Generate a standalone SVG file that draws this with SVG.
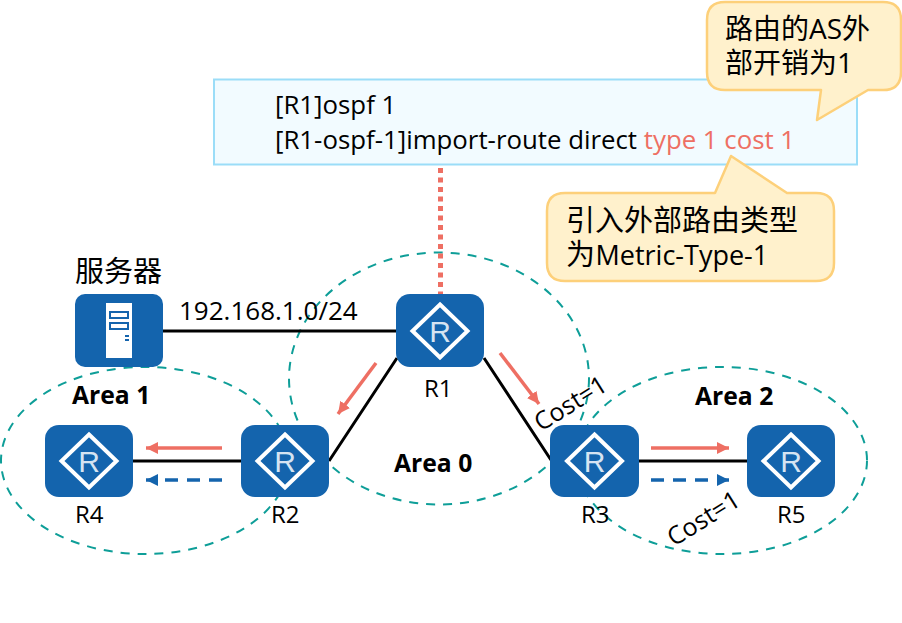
<svg xmlns="http://www.w3.org/2000/svg" width="902" height="623" viewBox="0 0 902 623">
<style>
text{font-family:"Open Sans","Noto Sans CJK SC","Noto Sans",sans-serif;fill:#000}
.cjk{font-family:"Noto Sans CJK SC","Noto Sans",sans-serif}
.t{font-size:24px}
.c{font-size:25px}
.code{font-size:25.800px}
.b{font-size:24.700px;font-weight:700}
.area{fill:none;stroke:#0e9e98;stroke-width:2;stroke-dasharray:9 8}
.box{fill:#1464ad}
.d{fill:none;stroke:#fff;stroke-width:4}
.r{fill:#d6e4f2;font-size:30px;font-family:"Liberation Sans",sans-serif;text-anchor:middle}
.link{stroke:#000;stroke-width:3;fill:none}
.red{stroke:#ee6f63;stroke-width:3.500;fill:none;marker-end:url(#ar)}
.blue{stroke:#1464ad;stroke-width:3.500;fill:none;stroke-dasharray:13 9;marker-end:url(#ab)}
.call{fill:#fff1cc;stroke:#fdd07a;stroke-width:2.500;stroke-linejoin:round}
</style>
<defs>
<marker id="ar" markerUnits="userSpaceOnUse" markerWidth="13" markerHeight="13" refX="12" refY="6" orient="auto"><path d="M0 0L12 6L0 12Z" fill="#ee6f63"/></marker>
<marker id="ab" markerUnits="userSpaceOnUse" markerWidth="13" markerHeight="13" refX="12" refY="6" orient="auto"><path d="M0 0L12 6L0 12Z" fill="#1464ad"/></marker>
</defs>
<rect width="902" height="623" fill="#fff"/>
<g id="areas">
<ellipse class="area" cx="439" cy="378.500" rx="150" ry="126"/>
<ellipse class="area" cx="145" cy="460.500" rx="144" ry="93.500"/>
<ellipse class="area" cx="722" cy="460.500" rx="145" ry="93.500"/>
</g>
<g id="connectors">
<path class="link" d="M163 331H396M397 358L329 461M484 358L551 460M133 461H241M639 461H747"/>
<path d="M440.500 168V294" stroke="#ee6f63" stroke-width="5" stroke-dasharray="5 4.500" fill="none"/>
<path class="red" d="M376 363L338 414"/>
<path class="red" d="M500 353L539 404"/>
<path class="red" d="M222 448H146"/>
<path class="red" d="M651 448H729"/>
<path class="blue" d="M222 480H146"/>
<path class="blue" d="M651 480H729"/>
</g>
<g id="server">
<rect class="box" x="75" y="294" width="88" height="73" rx="10"/>
<rect x="106" y="303" width="26" height="55" fill="#fff"/>
<path d="M110 312H128V318H110ZM110 323H128V329H110Z" fill="none" stroke="#1464ad" stroke-width="2"/>
<path d="M125 335H129V337H125ZM125 339H129V341H125Z" fill="#1464ad"/>
<text class="cjk" x="75" y="282" font-size="29">服务器</text>
</g>
<g id="R1">
<rect class="box" x="396" y="294" width="88" height="73" rx="14"/>
<path class="d" d="M440 304.500L467.500 331L440 357.500L412.500 331Z"/>
<text class="r" x="440" y="341.500">R</text>
<text class="t" x="424" y="397">R1</text>
</g>
<g id="R2">
<rect class="box" x="241" y="425" width="88" height="72" rx="14"/>
<path class="d" d="M285 434.500L312.500 461L285 487.500L257.500 461Z"/>
<text class="r" x="285" y="471.500">R</text>
<text class="t" x="271" y="523">R2</text>
</g>
<g id="R3">
<rect class="box" x="550" y="425" width="89" height="72" rx="14"/>
<path class="d" d="M594.500 434.500L622 461L594.500 487.500L567 461Z"/>
<text class="r" x="594.500" y="471.500">R</text>
<text class="t" x="581" y="523">R3</text>
</g>
<g id="R4">
<rect class="box" x="45" y="425" width="88" height="72" rx="14"/>
<path class="d" d="M89 434.500L116.500 461L89 487.500L61.500 461Z"/>
<text class="r" x="89" y="471.500">R</text>
<text class="t" x="75" y="523">R4</text>
</g>
<g id="R5">
<rect class="box" x="747" y="425" width="88" height="72" rx="14"/>
<path class="d" d="M791 434.500L818.500 461L791 487.500L763.500 461Z"/>
<text class="r" x="791" y="471.500">R</text>
<text class="t" x="777" y="523">R5</text>
</g>
<g id="config">
<rect x="214" y="79.500" width="643" height="85" fill="#f2fbff" stroke="#9bddf8" stroke-width="2"/>
<text class="code" x="275" y="114">[R1]ospf 1</text>
<text class="code" x="275" y="149">[R1-ospf-1]import-route direct <tspan style="fill:#ee6f63">type 1 cost 1</tspan></text>
</g>
<g id="callout-as">
<path class="call" d="M725 2H883Q901 2 901 20V72Q901 90 883 90H868L817 120L821 90H725Q707 90 707 72V20Q707 2 725 2Z"/>
<text x="725" y="39" font-size="28">路由的AS外</text>
<text x="725" y="73" font-size="28">部开销为1</text>
</g>
<g id="callout-type">
<path class="call" d="M715 193L731 156L787 193H816Q834 193 834 211V263Q834 281 816 281H565Q547 281 547 263V211Q547 193 565 193Z"/>
<text class="cjk" x="566" y="231" font-size="29">引入外部路由类型</text>
<text class="cjk" x="566" y="265" font-size="29">为</text>
<text x="595.500" y="265" font-size="27">Metric-Type-1</text>
</g>
<g id="labels">
<text x="179" y="320" font-size="26">192.168.1.0/24</text>
<text class="b" x="72" y="404">Area 1</text>
<text class="b" x="394" y="472">Area 0</text>
<text class="b" x="695" y="405">Area 2</text>
<text class="c" transform="translate(541 432) rotate(-32)">Cost=1</text>
<text class="c" transform="translate(674 547) rotate(-32)">Cost=1</text>
</g>
</svg>
